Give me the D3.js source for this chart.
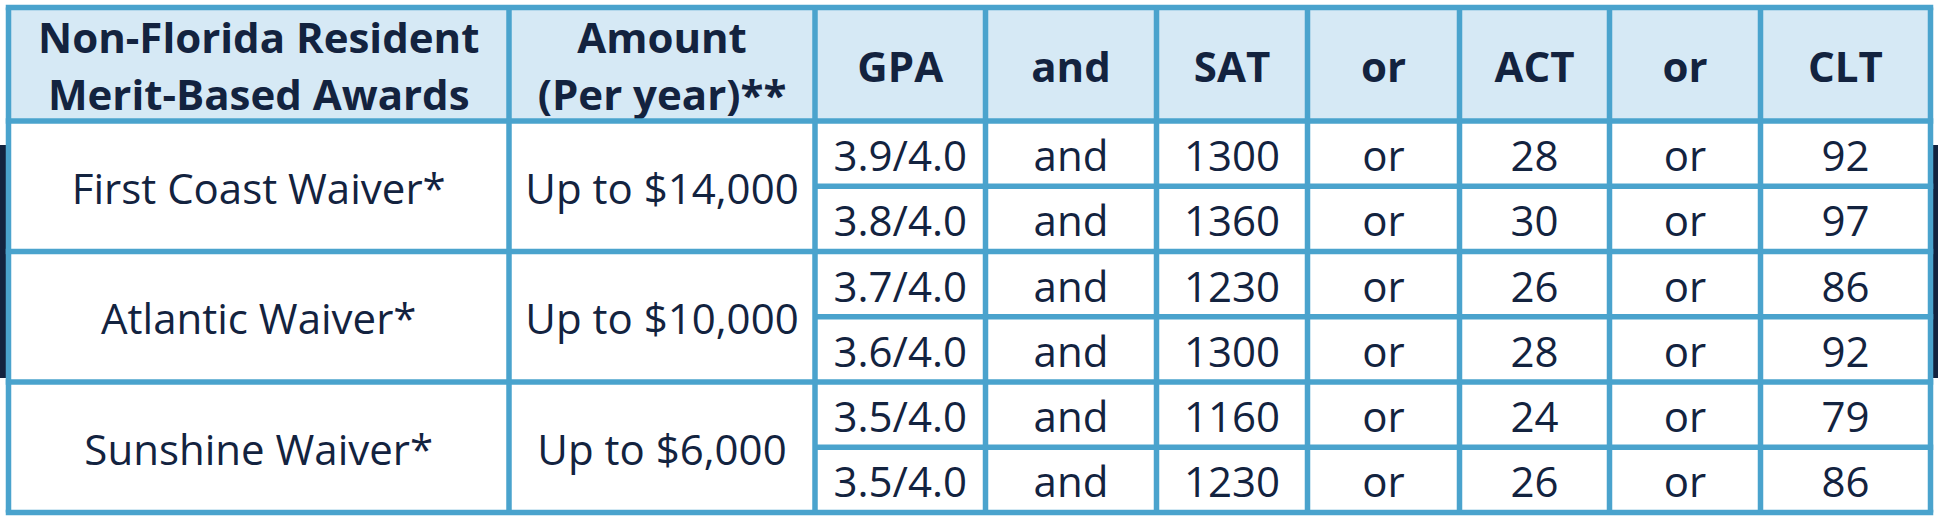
<!DOCTYPE html>
<html lang="en">
<head>
<meta charset="UTF-8">
<title>Non-Florida Resident Merit-Based Awards</title>
<style>
  body { margin: 0; background: #fff; }
  svg text { font-family: "Open Sans", "Noto Sans", sans-serif; fill: #13233f; }
</style>
</head>
<body>
<div id="chart"></div>
<script src="https://d3js.org/d3.v7.min.js"></script>
<script>
// table data
const headers = [
  ["Non-Florida Resident", "Merit-Based Awards"],
  ["Amount", "(Per year)**"],
  ["GPA"], ["and"], ["SAT"], ["or"], ["ACT"], ["or"], ["CLT"]
];
const awards = ["First Coast Waiver*", "Atlantic Waiver*", "Sunshine Waiver*"];
const amounts = ["Up to $14,000", "Up to $10,000", "Up to $6,000"];
const gpa = ["3.9/4.0", "3.8/4.0", "3.7/4.0", "3.6/4.0", "3.5/4.0", "3.5/4.0"];
const sat = [1300, 1360, 1230, 1300, 1160, 1230];
const act = [28, 30, 26, 28, 24, 26];
const clt = [92, 97, 86, 92, 79, 86];

const W = 1938, H = 520;
const ink = "#13233f", line = "#4aa3cd", headFill = "#d6e9f5";

// column edges (layout)
const colEdges = [8.5, 509, 815, 985.5, 1156.5, 1307.5, 1459.5, 1609.5, 1760.5, 1930.5];
const colMid = i => (colEdges[i] + colEdges[i + 1]) / 2;

// rows: header then 6 sub-rows
const headTop = 7.5, headBottom = 121;
const y = d3.scaleLinear().domain([0, gpa.length]).range([headBottom, 512.5]);
const base = 17.5;

const svg = d3.select("#chart").append("svg")
  .attr("width", W).attr("height", H);

// dark page strips peeking out behind the table
svg.append("rect").attr("x", 0).attr("y", 145).attr("width", 7).attr("height", 233).attr("fill", ink);
svg.append("rect").attr("x", 1932).attr("y", 145).attr("width", 6).attr("height", 233).attr("fill", ink);

// cell backgrounds
svg.append("rect")
  .attr("x", colEdges[0]).attr("y", headTop)
  .attr("width", colEdges[9] - colEdges[0]).attr("height", headBottom - headTop)
  .attr("fill", headFill);
svg.append("rect")
  .attr("x", colEdges[0]).attr("y", headBottom)
  .attr("width", colEdges[9] - colEdges[0]).attr("height", y(gpa.length) - headBottom)
  .attr("fill", "#fff");

// header text
const headMid = (headTop + headBottom) / 2;
const lh = 57;
headers.forEach((lines, i) => {
  const t = svg.append("text")
    .attr("text-anchor", "middle")
    .attr("font-weight", 700)
    .attr("font-size", 42);
  lines.forEach((s, j) => {
    t.append("tspan")
      .attr("x", colMid(i))
      .attr("y", headMid + (j - (lines.length - 1) / 2) * lh + base)
      .text(s);
  });
});

// group cells (span two sub-rows)
const groups = awards.map((a, g) => ({ award: a, amount: amounts[g], g }));
svg.selectAll(".award").data(groups).join("text")
  .attr("class", "award")
  .attr("text-anchor", "middle").attr("font-size", 42)
  .attr("x", colMid(0))
  .attr("y", d => (y(d.g * 2) + y(d.g * 2 + 2)) / 2 + base)
  .text(d => d.award);
svg.selectAll(".amount").data(groups).join("text")
  .attr("class", "amount")
  .attr("text-anchor", "middle").attr("font-size", 42)
  .attr("x", colMid(1))
  .attr("y", d => (y(d.g * 2) + y(d.g * 2 + 2)) / 2 + base)
  .text(d => d.amount);

// sub-row cells
const rows = gpa.map((v, r) => [v, "and", sat[r], "or", act[r], "or", clt[r]]);
rows.forEach((cells, r) => {
  svg.selectAll(null).data(cells).join("text")
    .attr("text-anchor", "middle").attr("font-size", 42)
    .attr("x", (d, k) => colMid(k + 2))
    .attr("y", (y(r) + y(r + 1)) / 2 + base)
    .text(d => d);
});

// grid lines
const grid = svg.append("g").attr("stroke", line).attr("stroke-width", 5.5).attr("fill", "none");
[headTop, headBottom].forEach(v => {
  grid.append("line").attr("x1", colEdges[0] - 2.75).attr("x2", colEdges[9] + 2.75).attr("y1", v).attr("y2", v);
});
d3.range(1, gpa.length + 1).forEach(r => {
  const full = r % 2 === 0;
  grid.append("line")
    .attr("x1", full ? colEdges[0] - 2.75 : colEdges[2])
    .attr("x2", colEdges[9] + 2.75)
    .attr("y1", y(r)).attr("y2", y(r));
});
colEdges.forEach(v => {
  grid.append("line").attr("x1", v).attr("x2", v).attr("y1", headTop).attr("y2", y(gpa.length));
});
</script>
</body>
</html>
